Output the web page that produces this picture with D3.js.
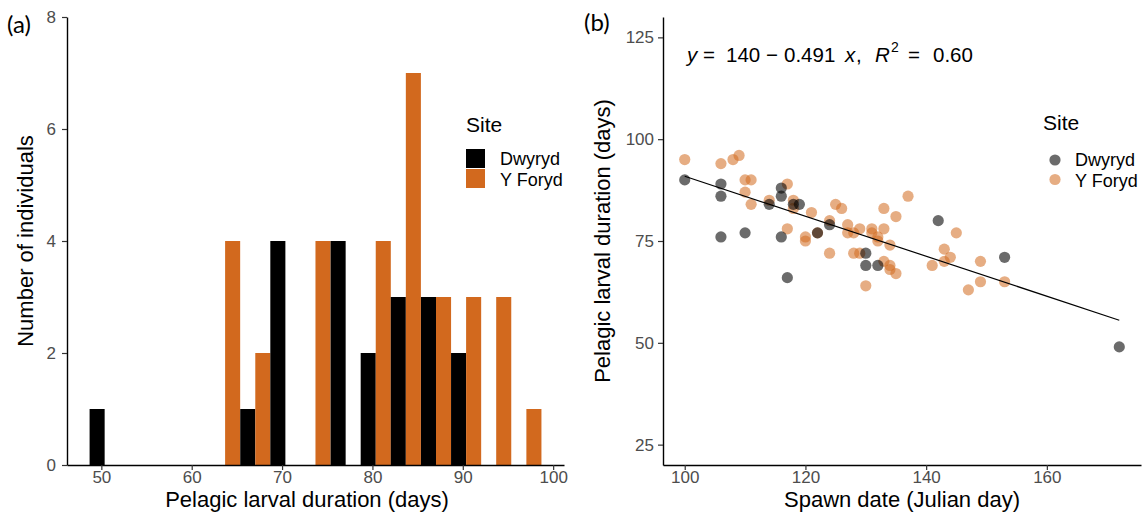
<!DOCTYPE html>
<html>
<head>
<meta charset="utf-8">
<script src="https://cdn.jsdelivr.net/npm/d3@7"></script>
<style>
  body { margin: 0; background: #fff; }
  text { font-family: "Liberation Sans", Arial, sans-serif; }
  .tick text { fill: #4d4d4d; font-size: 17px; }
  .tick line { stroke: #333; stroke-width: 1.2; }
  .domain { stroke: #000; stroke-width: 1.4; }
</style>
</head>
<body>
<svg width="1148" height="524"></svg>
<script>
// Histogram of pelagic larval duration (a) and PLD vs spawn date (b)

// ---- Data ----
const sites = ["Dwyryd", "Y Foryd"];
const siteColors = ["#000000", "#D2691E"];

// Histogram bins (lower edge, days) and counts per site
const binLower = [48.7, 52.03, 55.37, 58.7, 62.03, 65.37, 68.7, 72.03, 75.37, 78.7, 82.03, 85.37, 88.7, 92.03, 95.37];
const binWidth = 3.333;
const dwyrydCounts = [1, 0, 0, 0, 0, 1, 4, 0, 4, 2, 3, 3, 2, 0, 0];
const forydCounts  = [0, 0, 0, 0, 4, 2, 0, 4, 0, 4, 7, 3, 3, 3, 1];

// Scatter: spawn date (Julian day) and PLD (days)
const dwyrydSpawn = [100, 106, 106, 106, 110, 114, 116, 116, 116, 117, 118, 119, 122, 124, 130, 130, 132, 142, 153, 172];
const dwyrydPLD   = [ 90,  89,  86,  76,  77,  84,  88,  86,  76,  66,  84,  84,  77,  79,  72,  69,  69,  80,  71,  49];

const forydSpawn = [100, 106, 108, 109, 110, 111, 110, 111, 114, 117, 118, 118, 121, 117, 120, 120, 124, 125, 126, 127,
                    127, 128, 124, 128, 129, 131, 131, 132, 132, 133, 133, 135, 137, 134, 129, 130, 133, 134, 134, 135,
                    141, 143, 143, 144, 145, 147, 149, 149, 153, 122];
const forydPLD   = [ 95,  94,  95,  96,  90,  90,  87,  84,  85,  89,  85,  83,  82,  78,  76,  75,  80,  84,  83,  79,
                     77,  77,  72,  72,  78,  78,  77,  76,  75,  78,  83,  81,  86,  74,  72,  64,  70,  69,  68,  67,
                     69,  73,  70,  71,  77,  63,  70,  65,  65,  77];

// Fitted regression
const fitIntercept = 140;
const fitSlope = -0.491;

// Tick values
const histXTicks = [50, 60, 70, 80, 90, 100];
const histYTicks = [0, 2, 4, 6, 8];
const scatXTicks = [100, 120, 140, 160];
const scatYTicks = [25, 50, 75, 100, 125];

// ---- Setup ----
const svg = d3.select("svg");
const plotTop = 17, plotBottom = 465;

// ===== Panel (a): histogram =====
const xA = d3.scaleLinear().domain([46.2, 101.2]).range([67, 564]);
const yA = d3.scaleLinear().domain([0, 8]).range([plotBottom, plotTop]);

const gA = svg.append("g");

const bars = [];
binLower.forEach((b, i) => {
    bars.push({x0: b, x1: b + binWidth / 2, n: dwyrydCounts[i], site: 0});
    bars.push({x0: b + binWidth / 2, x1: b + binWidth, n: forydCounts[i], site: 1});
});

gA.selectAll("rect.bar")
    .data(bars.filter(d => d.n > 0))
    .enter().append("rect")
    .attr("class", "bar")
    .attr("x", d => xA(d.x0))
    .attr("width", d => xA(d.x1) - xA(d.x0))
    .attr("y", d => yA(d.n))
    .attr("height", d => yA(0) - yA(d.n))
    .attr("fill", d => siteColors[d.site]);

gA.append("g")
    .attr("transform", `translate(0,${plotBottom})`)
    .call(d3.axisBottom(xA).tickValues(histXTicks).tickSize(5).tickSizeOuter(0).tickPadding(1));

gA.append("g")
    .attr("transform", `translate(67,0)`)
    .call(d3.axisLeft(yA).tickValues(histYTicks).tickSize(5).tickSizeOuter(0).tickPadding(6));

gA.append("text")
    .attr("x", 307).attr("y", 507)
    .attr("text-anchor", "middle")
    .attr("font-size", 22)
    .text("Pelagic larval duration (days)");

gA.append("text")
    .attr("transform", "translate(33,241) rotate(-90)")
    .attr("text-anchor", "middle")
    .attr("font-size", 22)
    .text("Number of individuals");

// legend (a)
const legA = gA.append("g");
legA.append("text").attr("x", 466).attr("y", 132).attr("font-size", 21).text("Site");
sites.forEach((s, i) => {
    legA.append("rect")
        .attr("x", 466).attr("y", 149 + i * 20)
        .attr("width", 19).attr("height", 19)
        .attr("fill", siteColors[i]);
    legA.append("text")
        .attr("x", 500).attr("y", 165 + i * 21)
        .attr("font-size", 18)
        .text(s);
});

svg.append("text")
    .attr("x", 7).attr("y", 33)
    .attr("font-size", 24)
    .style("font-family", "Lato, sans-serif")
    .text("(a)");

// ===== Panel (b): scatter =====
const xB = d3.scaleLinear().domain([96.4, 175.6]).range([663, 1141]);
const yB = d3.scaleLinear().domain([20, 130]).range([plotBottom, plotTop]);

const gB = svg.append("g");

gB.append("g")
    .attr("transform", `translate(0,${plotBottom})`)
    .call(d3.axisBottom(xB).tickValues(scatXTicks).tickSize(5).tickSizeOuter(0).tickPadding(1));

gB.append("g")
    .attr("transform", `translate(663,0)`)
    .call(d3.axisLeft(yB).tickValues(scatYTicks).tickSize(5).tickSizeOuter(0).tickPadding(4));

// Y Foryd points first, Dwyryd on top
const forydPts = forydSpawn.map((d, i) => ({x: d, y: forydPLD[i]}));
const dwyrydPts = dwyrydSpawn.map((d, i) => ({x: d, y: dwyrydPLD[i]}));

gB.append("g").selectAll("circle")
    .data(forydPts)
    .enter().append("circle")
    .attr("cx", d => xB(d.x))
    .attr("cy", d => yB(d.y))
    .attr("r", 5.6)
    .attr("fill", siteColors[1])
    .attr("fill-opacity", 0.55);

// regression line over the data range
const allSpawn = dwyrydSpawn.concat(forydSpawn);
const fitX = d3.extent(allSpawn);
gB.append("line")
    .attr("x1", xB(fitX[0])).attr("y1", yB(fitIntercept + fitSlope * fitX[0]))
    .attr("x2", xB(fitX[1])).attr("y2", yB(fitIntercept + fitSlope * fitX[1]))
    .attr("stroke", "#000")
    .attr("stroke-width", 1.2);

gB.append("g").selectAll("circle")
    .data(dwyrydPts)
    .enter().append("circle")
    .attr("cx", d => xB(d.x))
    .attr("cy", d => yB(d.y))
    .attr("r", 5.6)
    .attr("fill", "#000")
    .attr("fill-opacity", 0.58);

gB.append("text")
    .attr("x", 902).attr("y", 507)
    .attr("text-anchor", "middle")
    .attr("font-size", 22)
    .text("Spawn date (Julian day)");

gB.append("text")
    .attr("transform", "translate(610,241) rotate(-90)")
    .attr("text-anchor", "middle")
    .attr("font-size", 22)
    .text("Pelagic larval duration (days)");

// equation label
const eq = gB.append("text").attr("y", 62).attr("font-size", 20.5);
const eqParts = [
    ["y", 687, true], ["=", 703, false], ["140", 726, false], ["\u2212", 766, false],
    ["0.491", 784, false], ["x", 845, true], [",", 856, false], ["R", 875, true],
    ["=", 908, false], ["0.60", 933, false]
];
eqParts.forEach(p => {
    eq.append("tspan").attr("x", p[1]).style("font-style", p[2] ? "italic" : "normal").text(p[0]);
});
gB.append("text").attr("x", 891).attr("y", 52).attr("font-size", 14).text("2");

// legend (b)
const legB = gB.append("g");
legB.append("text").attr("x", 1043).attr("y", 130).attr("font-size", 21).text("Site");
sites.forEach((s, i) => {
    legB.append("circle")
        .attr("cx", 1055).attr("cy", 160 + i * 19.5)
        .attr("r", 5.6)
        .attr("fill", i === 0 ? "#000" : siteColors[1])
        .attr("fill-opacity", i === 0 ? 0.58 : 0.55);
    legB.append("text")
        .attr("x", 1075).attr("y", 166 + i * 21)
        .attr("font-size", 18)
        .text(s);
});

svg.append("text")
    .attr("x", 584).attr("y", 31)
    .attr("font-size", 24)
    .style("font-family", "Lato, sans-serif")
    .text("(b)");
</script>
</body>
</html>
